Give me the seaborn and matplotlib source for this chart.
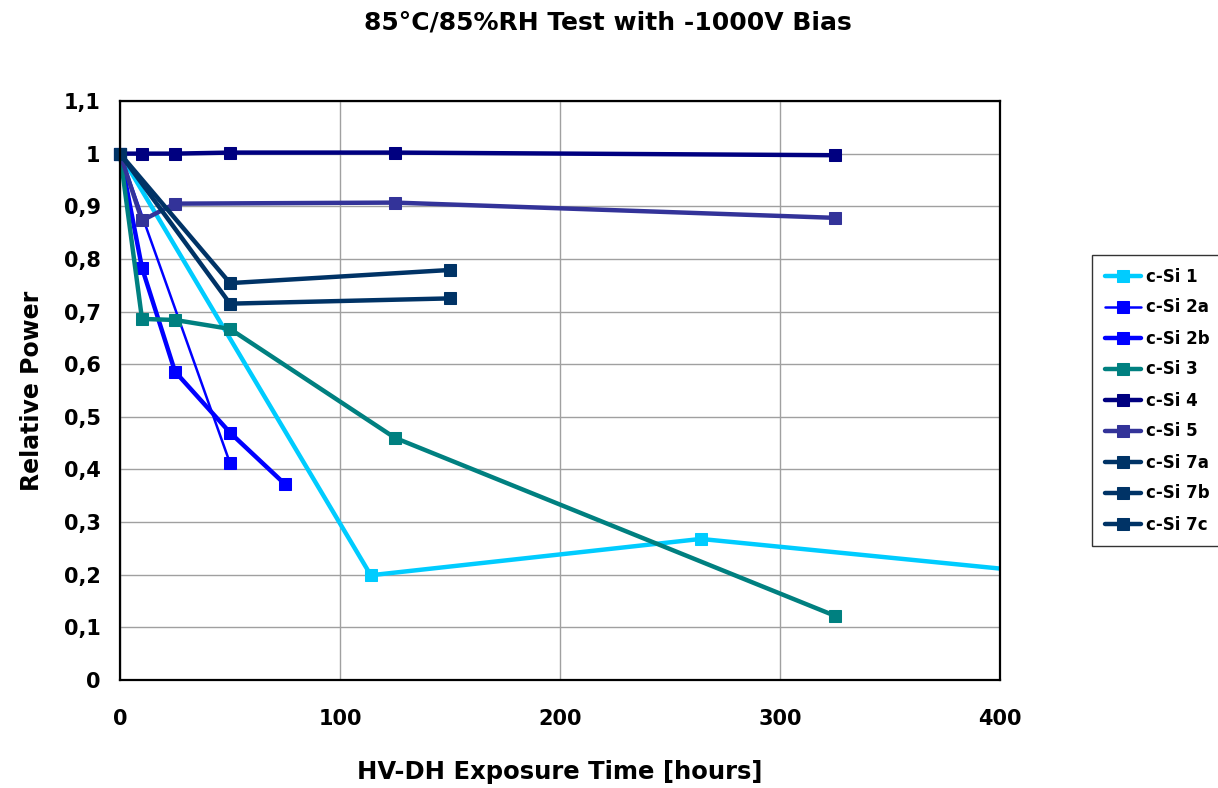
import matplotlib
matplotlib.use("Agg")
import matplotlib.pyplot as plt
import seaborn as sns
import pandas as pd
from matplotlib.ticker import FuncFormatter, MultipleLocator

# ---- data ----
si1_x = [0, 114, 264, 450]
si1_y = [1.0, 0.199, 0.268, 0.191]
si2a_x = [0, 50]
si2a_y = [1.0, 0.412]
si2b_x = [0, 10, 25, 50, 75]
si2b_y = [1.0, 0.783, 0.586, 0.470, 0.372]
si3_x = [0, 10, 25, 50, 125, 325]
si3_y = [1.0, 0.686, 0.684, 0.667, 0.460, 0.122]
si4_x = [0, 10, 25, 50, 125, 325]
si4_y = [1.0, 1.0, 1.0, 1.002, 1.002, 0.997]
si5_x = [0, 10, 25, 125, 325]
si5_y = [1.0, 0.873, 0.905, 0.907, 0.878]
si7a_x = [0, 50, 150]
si7a_y = [1.0, 0.754, 0.779]
si7b_x = [0, 50, 150]
si7b_y = [1.0, 0.715, 0.725]
si7c_x = [0]
si7c_y = [1.0]

labels = ["c-Si 1", "c-Si 2a", "c-Si 2b", "c-Si 3", "c-Si 4",
          "c-Si 5", "c-Si 7a", "c-Si 7b", "c-Si 7c"]
xs = [si1_x, si2a_x, si2b_x, si3_x, si4_x, si5_x, si7a_x, si7b_x, si7c_x]
ys = [si1_y, si2a_y, si2b_y, si3_y, si4_y, si5_y, si7a_y, si7b_y, si7c_y]

x_ticks = [0, 100, 200, 300, 400]

colors = ["#00CCFF", "#0000FF", "#0000FF", "#008080", "#000080",
          "#333399", "#003366", "#003366", "#003366"]
widths = [3.2, 1.8, 3.2, 3.2, 3.2, 3.2, 3.2, 3.2, 3.2]

sns.set_theme(style="white")
plt.rcParams["font.family"] = ["DejaVu Sans"]
plt.rcParams["font.weight"] = "bold"
plt.rcParams["text.color"] = "black"
plt.rcParams["axes.labelcolor"] = "black"
plt.rcParams["xtick.color"] = "black"
plt.rcParams["ytick.color"] = "black"

fig = plt.figure(figsize=(12.18, 7.88), dpi=100)
ax = fig.add_axes([120/1218, 1-680/788, 880/1218, 579/788])

for lab, x, y, c, w in zip(labels, xs, ys, colors, widths):
    df = pd.DataFrame({"t": x, "p": y})
    sns.lineplot(data=df, x="t", y="p", ax=ax, color=c, lw=w, marker="s",
                 markersize=8, markeredgecolor=c, label=lab, sort=False,
                 estimator=None)
    ln = ax.lines[-1]
    if lab != "c-Si 1":
        ln.set_clip_on(False)

ax.set_xlim(0, 400)
ax.set_ylim(0, 1.1)
ax.set_xticks(x_ticks)
ax.yaxis.set_major_locator(MultipleLocator(0.1))
ax.yaxis.set_major_formatter(FuncFormatter(lambda v, p: f"{v:.1f}".rstrip("0").rstrip(".").replace(".", ",") if abs(v) > 1e-9 else "0"))

ax.grid(True, color="#A0A0A0", lw=1.0)
ax.set_axisbelow(True)
for s in ax.spines.values():
    s.set_color("black")
    s.set_linewidth(1.6)
    s.set_visible(True)

ax.tick_params(axis="both", direction="out", length=6, width=1,
               labelsize=15, pad=8, labelcolor="black")
ax.tick_params(axis="y", color="black")
ax.tick_params(axis="x", color="#808080", pad=15)
for t in ax.get_xticklabels() + ax.get_yticklabels():
    t.set_fontweight("bold")

ax.set_xlabel("HV-DH Exposure Time [hours]", fontsize=17.5, fontweight="bold",
              labelpad=22, color="black")
ax.set_ylabel("Relative Power", fontsize=17, fontweight="bold", labelpad=14,
              color="black")
fig.text(608/1218, 1-22/788, "85°C/85%RH Test with -1000V Bias", ha="center", va="center",
         fontsize=18, fontweight="bold", color="black")

leg = ax.legend(loc="upper left", bbox_to_anchor=(1092/1218, 1-255/788),
                bbox_transform=fig.transFigure, borderaxespad=0, frameon=True,
                fancybox=False, edgecolor="black",
                handlelength=2.2, labelspacing=0.78, borderpad=0.75,
                handletextpad=0.3, prop={"weight": "bold", "size": 12})
leg.get_frame().set_linewidth(1.0)
for t in leg.get_texts():
    t.set_color("black")

fig.savefig("out.png", dpi=100, facecolor="white")
